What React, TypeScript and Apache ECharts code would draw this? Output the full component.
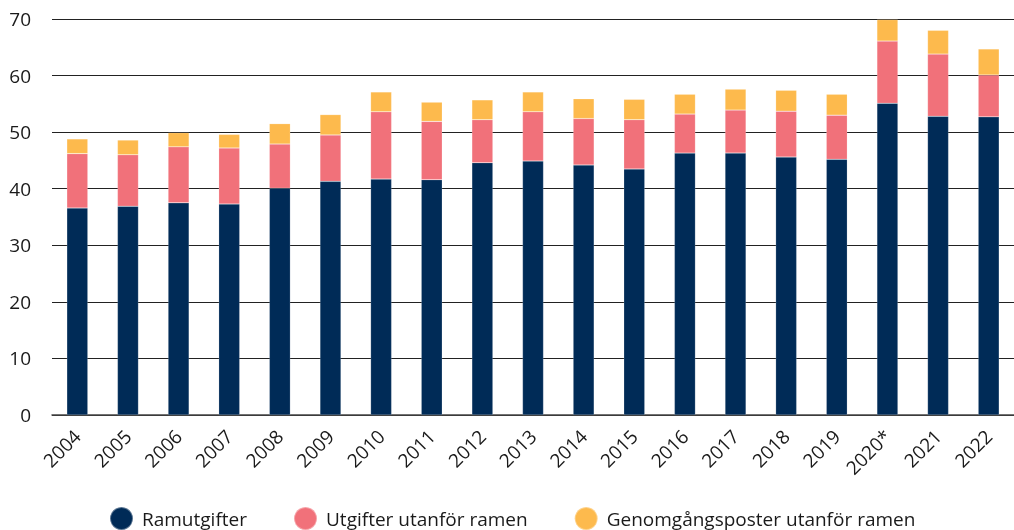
import React, { useEffect, useRef } from "react";
import * as echarts from "echarts";

const years = ["2004","2005","2006","2007","2008","2009","2010","2011","2012","2013","2014","2015","2016","2017","2018","2019","2020*","2021","2022"];
// cumulative tops
const ramTop = [36.6,36.9,37.5,37.3,40.1,41.3,41.7,41.6,44.6,44.9,44.2,43.5,46.3,46.3,45.6,45.2,55.1,52.8,52.7];
const utgTop = [46.2,46.0,47.4,47.2,47.9,49.5,53.6,51.9,52.2,53.6,52.4,52.2,53.2,53.9,53.7,53.0,66.1,63.8,60.1];
const genTop = [48.8,48.6,49.9,49.6,51.5,53.1,57.1,55.3,55.7,57.1,55.9,55.8,56.7,57.6,57.4,56.7,69.9,68.0,64.7];

const ramutgifter = ramTop;
const utgifter = utgTop.map((v, i) => +(v - ramTop[i]).toFixed(1));
const genomgang = genTop.map((v, i) => +(v - utgTop[i]).toFixed(1));

const seriesNames = ["Ramutgifter", "Utgifter utanför ramen", "Genomgångsposter utanför ramen"];
const colors = ["#002B57", "#F1717A", "#FDBA4D"];

export default function App() {
  const ref = useRef<HTMLDivElement>(null);
  useEffect(() => {
    const chart = echarts.init(ref.current!, null, { renderer: "svg" });
    const font = "'Open Sans', Lato, sans-serif";
    const data = [ramutgifter, utgifter, genomgang];
    chart.setOption({
      animation: false,
      textStyle: { fontFamily: font },
      grid: { left: 52, right: -7, top: 19, bottom: 115 },
      legend: {
        left: 104,
        bottom: -6,
        icon: "circle",
        itemWidth: 23,
        itemHeight: 23,
        itemGap: 46,
        textStyle: { fontSize: 19, color: "#1a1a1a", fontFamily: font, padding: [0, 0, 0, 4] },
        data: seriesNames,
      },
      xAxis: {
        type: "category",
        data: years,
        axisTick: { show: false },
        axisLine: { lineStyle: { color: "#444", width: 1.5 } },
        axisLabel: { rotate: 45, fontSize: 19, color: "#1a1a1a", margin: 18, interval: 0 },
      },
      yAxis: {
        type: "value",
        min: 0,
        max: 70,
        interval: 10,
        axisLine: { show: false },
        axisTick: { show: false },
        axisLabel: { fontSize: 19, color: "#1a1a1a", margin: 21 },
        splitLine: { lineStyle: { color: "#222", width: 1 } },
      },
      series: seriesNames.map((name, i) => ({
        name,
        type: "bar",
        stack: "total",
        barWidth: 21,
        data: data[i],
        itemStyle: { color: colors[i], borderColor: "rgba(255,255,255,0.35)", borderWidth: 0.5 },
      })),
    });
    return () => chart.dispose();
  }, []);
  return <div ref={ref} style={{ position: "fixed", left: 0, top: 0, width: 1014, height: 530 }} />;
}
